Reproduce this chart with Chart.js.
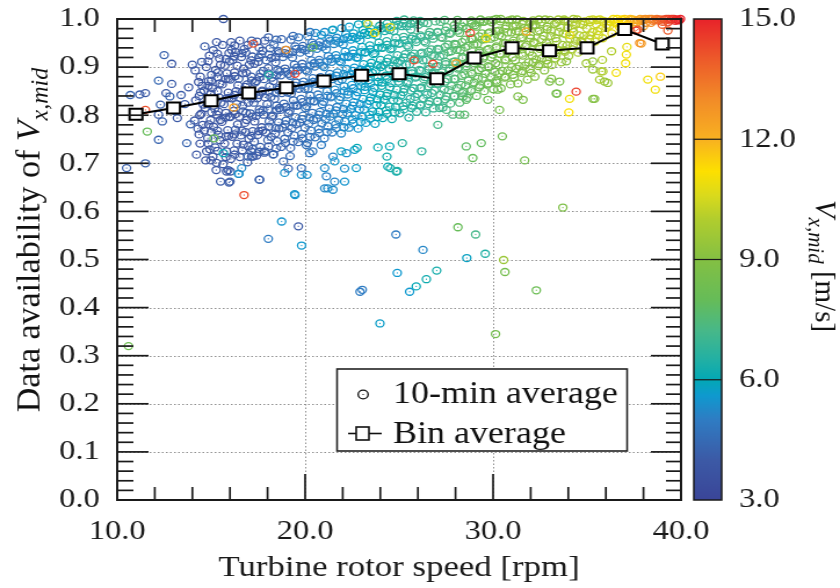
<!DOCTYPE html>
<html>
<head>
<meta charset="utf-8">
<script src="https://cdn.jsdelivr.net/npm/chart.js@4.4.1/dist/chart.umd.min.js"></script>
<style>
  html, body { margin: 0; padding: 0; background: #fff; overflow: hidden; }
</style>
</head>
<body>
<!-- drawn at 724 px wide, shown at 840 px: the original figure is stretched sideways -->
<canvas id="chart" width="724" height="588" style="width:840px;height:588px;display:block"></canvas>
<script>
// ── Data ────────────────────────────────────────────────────────────────
const binRpm   = [11, 13, 15, 17, 19, 21, 23, 25, 27, 29, 31, 33, 35, 37, 39];
const binAvail = [0.802, 0.815, 0.830, 0.846, 0.857, 0.871, 0.883, 0.886, 0.876, 0.919, 0.940, 0.934, 0.940, 0.978, 0.948];

const xTickValues = [10, 20, 30, 40];
const yTickValues = [0, 0.1, 0.2, 0.3, 0.4, 0.5, 0.6, 0.7, 0.8, 0.9, 1.0];
const cbarTicks   = [3, 6, 9, 12, 15];

// 10-min averages: [rotor speed rpm, availability, V_x,mid m/s]
const ptsLowRpm = [
  [10.5,.690,4.2],[10.6,.320,8.3],[10.7,.842,4.3],[11.2,.843,4.1],[11.5,.846,4.0],[11.5,.811,14.2],[11.6,.766,8.0],
  [11.5,.700,4.2],[12.2,.749,4.3],[12.5,.925,4.2],[12.9,.907,4.0],[12.2,.872,4.4],[12.9,.865,4.1],[12.3,.822,4.2],
  [12.6,.846,4.0],[12.8,.839,4.3],[12.2,.801,4.1],[12.4,.787,4.2],[13.2,.794,4.0],[13.1,.808,4.3],[13.6,.823,4.1],
  [13.8,.858,4.0],[13.9,.781,4.2],[13.7,.742,4.3],[14.0,.905,4.0],[13.4,.842,4.1]
];
const pts14to18 = [
  [14.22,.718,3.9],[14.41,.741,3.8],[14.30,.772,4.0],[14.12,.789,3.9],[14.47,.803,3.7],[14.18,.831,3.9],[14.44,.848,4.0],[14.33,.869,3.8],[14.15,.893,3.9],[14.50,.911,4.1],
  [14.71,.706,3.8],[14.93,.729,3.9],[14.82,.752,4.0],[14.63,.768,3.7],[14.97,.790,3.9],[14.68,.815,3.8],[14.89,.829,4.0],[14.61,.851,3.9],[14.84,.861,3.8],[15.02,.884,4.0],[14.74,.900,3.9],[14.91,.924,3.8],[14.66,.943,4.1],
  [15.27,.686,3.9],[15.09,.714,3.8],[15.21,.733,4.1],[15.38,.759,3.9],[15.13,.776,3.8],[15.31,.801,3.7],[15.19,.814,4.0],[15.42,.837,3.9],[15.06,.856,3.8],[15.34,.879,4.0],[15.24,.894,3.9],[15.45,.918,3.8],[15.11,.935,4.0],[15.29,.952,3.9],
  [15.63,.698,4.0],[15.82,.725,3.8],[15.71,.741,3.9],[15.88,.769,4.0],[15.57,.786,3.8],[15.79,.805,3.9],[15.68,.823,4.1],[15.91,.847,3.8],[15.59,.864,3.9],[15.84,.887,4.0],[15.73,.903,3.8],[15.95,.929,3.9],[15.61,.946,4.0],
  [16.04,.709,3.9],[16.22,.727,4.0],[16.11,.755,3.8],[16.29,.770,4.1],[16.01,.796,3.9],[16.19,.809,3.8],[16.08,.835,4.0],[16.33,.850,3.9],[16.02,.874,4.1],[16.24,.889,3.8],[16.14,.915,4.0],[16.31,.931,3.9],[16.06,.952,4.0],
  [16.53,.713,4.0],[16.71,.739,3.9],[16.58,.758,4.1],[16.79,.784,4.0],[16.49,.797,3.8],[16.68,.820,4.1],[16.55,.836,3.9],[16.82,.859,4.0],[16.47,.876,4.2],[16.73,.897,3.9],[16.61,.921,4.0],[16.77,.938,4.1],[16.52,.955,3.9],
  [16.93,.702,4.1],[17.12,.725,4.0],[17.01,.751,3.9],[17.21,.767,4.1],[16.89,.790,4.0],[17.08,.804,4.2],[16.97,.826,3.9],[17.24,.841,4.1],[16.91,.864,4.0],[17.14,.880,4.2],[17.03,.905,4.0],[17.19,.922,4.1],[16.95,.946,3.9],
  [17.42,.716,4.0],[17.61,.734,4.2],[17.48,.759,4.1],[17.69,.775,4.0],[17.39,.798,4.2],[17.57,.812,4.1],[17.46,.835,4.0],[17.72,.849,4.2],[17.41,.871,4.1],[17.63,.887,4.3],[17.51,.911,4.0],[17.67,.927,4.2],[17.44,.953,4.1],
  [17.83,.722,4.1],[18.02,.748,4.2],[17.91,.764,4.0],[18.09,.787,4.3],[17.79,.801,4.1],[17.98,.823,4.2],[17.87,.837,4.0],[18.11,.860,4.3],[17.81,.875,4.2],[18.04,.898,4.1],[17.93,.914,4.3],[18.13,.939,4.2],[17.85,.955,4.0]
];
const pts18to22 = [
  [18.32,.719,4.2],[18.51,.746,4.3],[18.41,.762,4.1],[18.59,.785,4.3],[18.29,.799,4.2],[18.48,.820,4.4],[18.37,.834,4.2],[18.62,.857,4.3],[18.31,.871,4.1],[18.54,.894,4.4],[18.43,.910,4.2],[18.58,.933,4.3],[18.34,.947,4.4],
  [18.72,.734,4.3],[18.91,.751,4.4],[18.79,.774,4.2],[18.99,.789,4.5],[18.68,.811,4.3],[18.87,.824,4.4],[18.76,.846,4.3],[19.01,.860,4.5],[18.71,.883,4.4],[18.93,.897,4.3],[18.82,.921,4.5],[18.97,.936,4.4],[18.74,.958,4.3],
  [19.22,.732,4.4],[19.41,.758,4.5],[19.29,.773,4.3],[19.48,.796,4.6],[19.18,.809,4.4],[19.38,.831,4.5],[19.26,.845,4.4],[19.51,.868,4.6],[19.21,.882,4.5],[19.43,.905,4.4],[19.32,.920,4.6],[19.47,.943,4.5],[19.24,.957,4.4],
  [19.63,.744,4.5],[19.82,.761,4.6],[19.71,.784,4.4],[19.89,.799,4.7],[19.59,.820,4.5],[19.78,.834,4.6],[19.67,.855,4.5],[19.92,.870,4.7],[19.61,.893,4.6],[19.84,.907,4.5],[19.73,.930,4.7],[19.88,.944,4.6],[19.65,.962,4.8],
  [20.12,.742,4.6],[20.31,.768,4.8],[20.19,.783,4.7],[20.38,.805,4.6],[20.08,.819,4.8],[20.27,.841,4.7],[20.16,.855,4.9],[20.41,.877,4.7],[20.11,.891,4.8],[20.33,.914,4.9],[20.22,.929,4.7],[20.37,.951,4.8],[20.14,.964,4.9],
  [20.53,.754,4.8],[20.72,.771,4.9],[20.61,.793,4.7],[20.79,.807,5.0],[20.49,.829,4.8],[20.68,.843,4.9],[20.57,.865,5.0],[20.82,.879,4.8],[20.51,.901,5.0],[20.74,.915,4.9],[20.63,.938,5.1],[20.78,.952,4.9],[20.56,.971,5.2],
  [21.02,.752,4.9],[21.21,.777,5.0],[21.09,.792,5.1],[21.28,.814,4.9],[20.98,.828,5.0],[21.17,.850,5.2],[21.06,.864,5.0],[21.31,.886,5.1],[21.01,.900,5.2],[21.23,.923,5.0],[21.12,.937,5.2],[21.27,.959,5.1],[21.04,.973,5.3],
  [21.43,.764,5.0],[21.62,.781,5.1],[21.49,.803,5.2],[21.69,.817,5.0],[21.39,.839,5.2],[21.58,.853,5.3],[21.47,.875,5.1],[21.72,.889,5.3],[21.41,.911,5.2],[21.64,.925,5.4],[21.53,.948,5.2],[21.68,.961,5.3],[21.45,.977,5.5],
  [21.92,.762,5.2],[22.11,.787,5.3],[21.99,.802,5.1],[22.18,.824,5.4],[21.88,.838,5.2],[22.07,.860,5.4],[21.96,.874,5.3],[22.21,.896,5.5],[21.91,.910,5.3],[22.13,.932,5.5],[22.02,.947,5.4],[22.17,.968,5.6],[21.94,.981,5.5]
];
const pts22to26 = [
  [22.33,.774,5.3],[22.52,.791,5.5],[22.41,.813,5.4],[22.59,.827,5.3],[22.29,.849,5.5],[22.48,.863,5.6],[22.37,.885,5.4],[22.62,.899,5.6],[22.31,.921,5.5],[22.54,.935,5.7],[22.43,.957,5.6],[22.58,.970,5.8],[22.35,.984,5.7],
  [22.82,.772,5.5],[23.01,.797,5.6],[22.89,.812,5.4],[23.08,.834,5.7],[22.78,.848,5.5],[22.97,.870,5.7],[22.86,.884,5.6],[23.11,.906,5.8],[22.81,.920,5.7],[23.03,.942,5.9],[22.92,.956,5.8],[23.07,.977,6.0],[22.84,.989,5.9],
  [23.23,.784,5.7],[23.42,.801,5.8],[23.29,.823,5.6],[23.49,.837,5.9],[23.19,.859,5.7],[23.38,.873,5.9],[23.27,.895,5.8],[23.52,.909,6.0],[23.21,.931,5.9],[23.44,.945,6.1],[23.33,.967,6.0],[23.48,.980,6.2],[23.25,.992,6.1],
  [23.72,.782,5.8],[23.91,.807,6.0],[23.79,.821,5.9],[23.98,.843,6.1],[23.68,.857,5.9],[23.87,.879,6.1],[23.76,.893,6.0],[24.01,.915,6.2],[23.71,.929,6.1],[23.93,.951,6.3],[23.82,.965,6.2],[23.97,.986,6.4],
  [24.13,.794,6.0],[24.32,.810,6.2],[24.19,.832,6.1],[24.38,.846,6.3],[24.09,.868,6.1],[24.28,.882,6.3],[24.17,.904,6.2],[24.42,.918,6.4],[24.11,.940,6.3],[24.34,.954,6.5],[24.23,.975,6.4],[24.37,.991,6.6],
  [24.62,.792,6.2],[24.81,.817,6.4],[24.69,.831,6.3],[24.88,.853,6.5],[24.58,.867,6.3],[24.77,.889,6.5],[24.66,.903,6.4],[24.91,.925,6.6],[24.61,.939,6.5],[24.83,.961,6.7],[24.72,.975,6.6],[24.87,.996,6.8],
  [25.03,.804,6.4],[25.22,.819,6.5],[25.09,.841,6.3],[25.28,.855,6.6],[24.99,.877,6.5],[25.18,.891,6.7],[25.07,.913,6.6],[25.32,.927,6.8],[25.01,.949,6.7],[25.24,.963,6.9],[25.13,.985,6.8],[25.27,.999,7.0],
  [25.52,.795,6.5],[25.71,.820,6.6],[25.59,.834,6.5],[25.78,.856,6.7],[25.48,.870,6.6],[25.67,.892,6.8],[25.56,.906,6.7],[25.81,.928,6.9],[25.51,.942,6.8],[25.73,.964,7.0],[25.62,.978,6.9],[25.77,.997,7.1]
];
const pts26to30 = [
  [25.93,.807,6.7],[26.12,.822,6.8],[25.99,.844,6.6],[26.18,.858,6.9],[25.89,.880,6.8],[26.08,.894,7.0],[25.97,.916,6.9],[26.22,.930,7.1],[25.91,.952,7.0],[26.14,.966,7.2],[26.03,.988,7.1],
  [26.42,.806,6.8],[26.61,.829,6.9],[26.49,.843,6.7],[26.68,.865,7.0],[26.38,.879,6.9],[26.57,.901,7.1],[26.46,.915,7.0],[26.71,.937,7.2],[26.41,.951,7.1],[26.63,.973,7.3],[26.52,.991,7.2],
  [26.83,.814,6.9],[27.02,.829,7.0],[26.89,.851,6.9],[27.08,.865,7.1],[26.79,.887,7.0],[26.98,.901,7.2],[26.87,.923,7.1],[27.12,.937,7.3],[26.81,.959,7.2],[27.04,.973,7.4],[26.93,.995,7.3],
  [27.32,.816,7.1],[27.51,.839,7.2],[27.39,.853,7.1],[27.58,.875,7.3],[27.28,.889,7.2],[27.47,.911,7.4],[27.36,.925,7.3],[27.61,.947,7.5],[27.31,.961,7.4],[27.53,.983,7.6],[27.42,.998,7.5],
  [27.73,.824,7.3],[27.92,.839,7.4],[27.79,.861,7.3],[27.98,.875,7.5],[27.69,.897,7.4],[27.88,.911,7.6],[27.77,.933,7.5],[28.02,.947,7.7],[27.71,.969,7.6],[27.94,.987,7.8],
  [28.22,.826,7.5],[28.41,.849,7.6],[28.29,.863,7.5],[28.48,.885,7.7],[28.18,.899,7.6],[28.37,.921,7.8],[28.26,.935,7.7],[28.51,.957,7.9],[28.21,.971,7.8],[28.43,.993,8.0],
  [28.63,.836,7.7],[28.82,.850,7.8],[28.69,.872,7.7],[28.88,.886,7.9],[28.59,.908,7.8],[28.78,.922,8.0],[28.67,.944,7.9],[28.92,.958,8.1],[28.61,.980,8.0],[28.84,.997,8.2],
  [29.12,.840,7.9],[29.31,.862,8.0],[29.19,.876,7.9],[29.38,.898,8.1],[29.08,.912,8.0],[29.27,.934,8.2],[29.16,.948,8.1],[29.41,.970,8.3],[29.11,.984,8.2],[29.33,.999,8.3],
  [29.53,.850,8.1],[29.72,.864,8.2],[29.59,.886,8.1],[29.78,.900,8.3],[29.49,.922,8.2],[29.68,.936,8.4],[29.57,.958,8.3],[29.82,.972,8.5],[29.51,.994,8.4]
];
const pts30to34 = [
  [30.02,.854,8.3],[30.21,.868,8.4],[30.09,.890,8.3],[30.28,.904,8.5],[29.98,.926,8.4],[30.17,.940,8.6],[30.06,.962,8.5],[30.31,.976,8.7],[30.01,.998,8.6],
  [30.42,.856,8.5],[30.61,.878,8.6],[30.49,.892,8.5],[30.68,.914,8.7],[30.38,.928,8.6],[30.57,.950,8.8],[30.46,.964,8.7],[30.71,.986,8.9],[30.41,1.0,8.8],
  [30.93,.864,8.6],[31.12,.878,8.7],[30.99,.900,8.6],[31.18,.914,8.8],[30.89,.936,8.7],[31.08,.950,8.9],[30.97,.972,8.8],[31.22,.986,9.0],[31.01,.999,8.9],
  [31.32,.866,8.8],[31.51,.888,8.9],[31.39,.902,8.8],[31.58,.924,9.0],[31.28,.938,8.9],[31.47,.960,9.1],[31.36,.974,9.0],[31.61,.996,9.2],
  [31.83,.874,8.9],[32.02,.888,9.0],[31.89,.910,8.9],[32.08,.924,9.1],[31.79,.946,9.0],[31.98,.960,9.2],[31.87,.982,9.1],[32.12,.997,9.3],
  [32.22,.880,9.0],[32.41,.902,9.1],[32.29,.916,9.0],[32.48,.938,9.2],[32.18,.952,9.1],[32.37,.974,9.3],[32.26,.988,9.2],
  [32.73,.893,9.1],[32.92,.907,9.2],[32.79,.929,9.1],[32.98,.943,9.3],[32.69,.965,9.2],[32.88,.979,9.4],[32.77,.999,9.3],
  [33.12,.904,9.3],[33.31,.918,9.4],[33.19,.940,9.3],[33.38,.954,9.5],[33.08,.976,9.4],[33.27,.990,9.6],
  [33.63,.910,9.5],[33.82,.932,9.6],[33.69,.946,9.5],[33.88,.968,9.7],[33.59,.982,9.6],[33.78,.999,9.8]
];
const pts34to40 = [
  [34.02,.923,9.7],[34.21,.937,9.8],[34.09,.959,9.7],[34.28,.973,9.9],[33.98,.995,9.8],
  [34.52,.930,9.9],[34.71,.952,10.0],[34.59,.966,9.9],[34.78,.988,10.1],[34.48,.999,10.0],
  [34.93,.944,10.1],[35.12,.958,10.2],[34.99,.980,10.1],[35.18,.994,10.3],
  [35.42,.953,10.3],[35.61,.967,10.4],[35.49,.989,10.3],[35.68,.999,10.5],
  [35.83,.960,10.5],[36.02,.982,10.6],[35.89,.996,10.5],
  [36.32,.970,10.8],[36.51,.991,10.9],[36.39,1.0,11.0],[36.20,.995,10.8],[36.60,1.0,11.1],
  [36.73,.983,11.2],[36.92,.997,11.3],[36.90,.985,11.4],[37.00,1.0,11.6],
  [37.22,.984,11.7],[37.41,.999,11.9],[37.50,.993,12.1],
  [37.63,.993,12.2],[37.82,1.0,12.4],[37.90,.996,12.6],[38.00,.985,12.5],
  [38.13,.992,12.7],[38.31,1.0,12.9],[38.40,.992,13.0],
  [38.52,.996,13.3],[38.71,1.0,13.6],[38.80,.997,13.8],
  [39.02,.994,14.0],[39.21,1.0,14.3],[39.00,.988,13.9],[39.30,.993,14.3],
  [39.43,.997,14.5],[39.62,1.0,14.7],[39.70,.996,14.8],
  [39.83,.998,14.8],[39.97,1.0,15.0]
];
const ptsCore = [
  [14.55,.780,3.9],[14.58,.822,3.8],[14.52,.861,4.0],
  [15.00,.765,3.9],[15.03,.806,4.0],[14.98,.845,3.8],[15.01,.872,3.9],
  [15.47,.748,3.8],[15.49,.790,3.9],[15.52,.826,4.0],[15.46,.866,3.9],[15.50,.905,3.8],
  [15.93,.757,3.9],[15.97,.797,4.0],[15.95,.836,3.8],[15.92,.876,3.9],[15.98,.912,4.1],
  [16.38,.741,4.0],[16.41,.781,3.9],[16.36,.823,4.1],[16.43,.862,4.0],[16.39,.903,3.9],
  [16.83,.765,4.0],[16.86,.805,4.1],[16.81,.847,3.9],[16.87,.888,4.0],[16.84,.930,4.1],
  [17.29,.745,4.1],[17.31,.787,4.0],[17.27,.826,4.2],[17.33,.868,4.1],[17.30,.907,4.0],
  [17.73,.768,4.1],[17.75,.810,4.2],[17.71,.851,4.0],[17.77,.892,4.2],[17.74,.934,4.1],
  [18.19,.755,4.2],[18.21,.797,4.1],[18.17,.838,4.3],[18.23,.878,4.2],[18.20,.919,4.1],
  [18.61,.772,4.3],[18.64,.815,4.2],[18.59,.853,4.4],[18.66,.891,4.3],[18.62,.929,4.2],
  [19.09,.764,4.4],[19.11,.805,4.3],[19.07,.847,4.5],[19.13,.886,4.4],[19.10,.927,4.5],
  [19.52,.781,4.5],[19.54,.820,4.4],[19.49,.861,4.6],[19.56,.899,4.5],[19.53,.938,4.6],
  [19.99,.774,4.6],[20.01,.815,4.7],[19.97,.855,4.6],[20.03,.894,4.8],[20.00,.935,4.7],
  [20.44,.790,4.8],[20.46,.829,4.7],[20.42,.869,4.9],[20.48,.908,4.8],[20.45,.946,4.9],
  [20.89,.783,4.9],[20.91,.823,5.0],[20.87,.863,4.9],[20.93,.903,5.1],[20.90,.942,5.0],
  [21.33,.797,5.1],[21.36,.837,5.0],[21.31,.878,5.2],[21.38,.917,5.1],[21.34,.955,5.3],
  [21.79,.790,5.2],[21.81,.832,5.3],[21.77,.871,5.2],[21.83,.912,5.4],[21.80,.951,5.3],
  [22.24,.804,5.4],[22.26,.843,5.3],[22.22,.883,5.5],[22.28,.923,5.4],[22.25,.962,5.6],
  [22.69,.800,5.5],[22.71,.840,5.6],[22.67,.880,5.5],[22.73,.920,5.7],[22.70,.960,5.8],
  [23.14,.812,5.7],[23.16,.852,5.8],[23.12,.891,5.7],[23.18,.930,5.9],[23.15,.971,6.0],
  [23.59,.808,5.9],[23.61,.848,5.8],[23.57,.888,6.0],[23.63,.927,6.1],[23.60,.968,6.0],
  [24.04,.821,6.1],[24.06,.861,6.2],[24.02,.900,6.1],[24.08,.941,6.3],[24.05,.980,6.2],
  [24.49,.818,6.3],[24.51,.858,6.2],[24.47,.897,6.4],[24.53,.937,6.3],[24.50,.977,6.5],
  [24.94,.830,6.5],[24.96,.870,6.4],[24.92,.909,6.6],[24.98,.949,6.5],[24.95,.988,6.7],
  [25.39,.826,6.6],[25.41,.866,6.7],[25.37,.905,6.6],[25.43,.945,6.8],[25.40,.985,6.7],
  [25.84,.838,6.8],[25.86,.878,6.7],[25.82,.917,6.9],[25.88,.957,6.8],[25.85,.993,7.0],
  [26.29,.835,6.9],[26.31,.875,7.0],[26.27,.914,6.9],[26.33,.954,7.1],[26.30,.992,7.2],
  [26.74,.846,7.0],[26.76,.886,7.1],[26.72,.925,7.2],[26.78,.965,7.1],
  [27.19,.843,7.2],[27.21,.883,7.3],[27.17,.922,7.2],[27.23,.962,7.4],[27.20,.994,7.3],
  [27.64,.852,7.4],[27.66,.892,7.3],[27.62,.931,7.5],[27.68,.971,7.4],
  [28.09,.857,7.6],[28.11,.897,7.5],[28.07,.936,7.7],[28.13,.976,7.6],[28.10,.998,7.8],
  [28.54,.862,7.8],[28.56,.902,7.7],[28.52,.941,7.9],[28.58,.981,7.8],
  [28.99,.868,8.0],[29.01,.908,7.9],[28.97,.947,8.1],[29.03,.987,8.0],
  [29.44,.878,8.2],[29.46,.918,8.1],[29.42,.957,8.3],[29.48,.995,8.2],
  [29.89,.880,8.3],[29.91,.920,8.4],[29.87,.959,8.3],[29.93,.993,8.5],
  [30.34,.887,8.5],[30.36,.927,8.6],[30.32,.966,8.5],[30.38,.995,8.7],
  [30.79,.893,8.7],[30.81,.933,8.8],[30.77,.972,8.7],[30.83,.997,8.9],
  [31.24,.897,8.8],[31.26,.937,8.9],[31.22,.975,9.0],[31.28,.999,8.9],
  [31.69,.903,9.0],[31.71,.943,9.1],[31.67,.981,9.0],
  [32.14,.910,9.1],[32.16,.950,9.2],[32.12,.987,9.1],
  [32.59,.918,9.2],[32.61,.958,9.3],[32.57,.993,9.2],
  [33.04,.926,9.4],[33.06,.965,9.5],[33.02,.998,9.4],
  [33.49,.935,9.6],[33.51,.973,9.5],[33.47,.999,9.7],
  [33.94,.945,9.7],[33.96,.981,9.8],[34.39,.955,9.9],[34.41,.989,10.0],
  [34.84,.965,10.1],[34.86,.995,10.2],[35.29,.973,10.3],[35.31,.999,10.4],
  [35.74,.980,10.5],[36.19,.986,10.7],[36.64,.993,11.1],[37.09,.995,11.5],[37.54,.998,12.0],
  [37.99,.999,12.6],[38.44,1.0,13.1],[38.89,.999,13.8],[39.34,1.0,14.4],[39.74,.999,14.9]
];
const ptsCore2 = [
  [14.36,.760,3.8],[14.40,.800,3.9],[14.37,.840,4.0],[14.42,.880,3.8],[14.85,.741,3.9],[14.87,.781,3.8],[14.83,.823,4.0],[14.86,.871,3.9],[14.84,.912,3.8],
  [15.35,.726,3.9],[15.33,.768,4.0],[15.37,.808,3.8],[15.34,.850,3.9],[15.36,.889,4.0],[15.33,.928,3.9],
  [15.78,.713,3.8],[15.80,.756,3.9],[15.76,.795,4.0],[15.81,.835,3.9],[15.77,.875,3.8],[15.79,.917,4.0],
  [16.25,.718,4.0],[16.23,.760,3.9],[16.27,.802,3.8],[16.24,.842,4.0],[16.26,.881,3.9],[16.22,.922,4.0],[16.25,.945,3.9],
  [16.66,.727,3.9],[16.64,.768,4.0],[16.69,.808,4.1],[16.65,.848,3.9],[16.68,.887,4.0],[16.63,.929,4.1],
  [17.15,.714,4.0],[17.13,.757,4.1],[17.17,.797,3.9],[17.14,.835,4.0],[17.16,.872,4.1],[17.12,.914,4.0],[17.15,.955,4.2],
  [17.56,.724,4.1],[17.54,.767,4.0],[17.58,.806,4.2],[17.55,.842,4.1],[17.57,.879,4.0],[17.53,.920,4.2],[17.56,.940,4.1],
  [18.05,.735,4.1],[18.07,.776,4.2],[18.03,.812,4.3],[18.06,.849,4.1],[18.04,.887,4.2],[18.08,.926,4.3],[18.05,.962,4.2],
  [18.46,.731,4.2],[18.44,.773,4.3],[18.48,.810,4.2],[18.45,.846,4.4],[18.47,.883,4.3],[18.43,.921,4.2],[18.46,.957,4.4],
  [18.95,.742,4.3],[18.93,.781,4.4],[18.97,.817,4.3],[18.94,.853,4.5],[18.96,.890,4.4],[18.92,.929,4.3],
  [19.36,.745,4.4],[19.34,.785,4.5],[19.38,.820,4.4],[19.35,.856,4.6],[19.37,.893,4.5],[19.33,.931,4.4],[19.36,.965,4.5],
  [19.85,.752,4.5],[19.83,.792,4.6],[19.87,.827,4.5],[19.84,.863,4.7],[19.86,.900,4.6],[19.82,.938,4.5],
  [20.26,.755,4.7],[20.24,.795,4.8],[20.28,.830,4.7],[20.25,.866,4.9],[20.27,.903,4.8],[20.23,.940,4.7],[20.26,.973,4.9],
  [20.75,.763,4.8],[20.73,.801,4.9],[20.77,.836,5.0],[20.74,.872,4.8],[20.76,.909,5.0],[20.72,.945,4.9],
  [21.16,.765,5.0],[21.14,.803,5.1],[21.18,.840,5.0],[21.15,.876,5.2],[21.17,.912,5.1],[21.13,.948,5.0],
  [21.65,.773,5.1],[21.63,.810,5.2],[21.67,.846,5.1],[21.64,.882,5.3],[21.66,.918,5.2],[21.62,.955,5.3],
  [22.06,.775,5.3],[22.04,.813,5.2],[22.08,.850,5.4],[22.05,.886,5.3],[22.07,.921,5.5],[22.03,.958,5.4],
  [22.55,.783,5.4],[22.53,.820,5.5],[22.57,.856,5.4],[22.54,.892,5.6],[22.56,.928,5.5],[22.52,.963,5.7],
  [22.96,.786,5.6],[22.94,.823,5.5],[22.98,.860,5.7],[22.95,.895,5.6],[22.97,.931,5.8],[22.93,.966,5.7],
  [23.45,.793,5.7],[23.43,.830,5.8],[23.47,.866,5.7],[23.44,.901,5.9],[23.46,.937,5.8],[23.42,.973,6.0],
  [23.86,.796,5.9],[23.84,.833,6.0],[23.88,.869,5.9],[23.85,.904,6.1],[23.87,.940,6.0],[23.83,.976,6.2],
  [24.35,.803,6.1],[24.33,.840,6.2],[24.37,.875,6.1],[24.34,.911,6.3],[24.36,.946,6.2],[24.32,.982,6.4],
  [24.76,.806,6.3],[24.74,.842,6.4],[24.78,.878,6.3],[24.75,.914,6.5],[24.77,.950,6.4],[24.73,.986,6.6],
  [25.25,.812,6.4],[25.23,.848,6.5],[25.27,.884,6.4],[25.24,.920,6.6],[25.26,.956,6.5],[25.22,.991,6.7],
  [25.66,.815,6.6],[25.64,.851,6.7],[25.68,.887,6.6],[25.65,.923,6.8],[25.67,.959,6.7],[25.63,.990,6.9],
  [26.15,.820,6.7],[26.13,.856,6.8],[26.17,.892,6.7],[26.14,.928,6.9],[26.16,.963,6.8],[26.12,.996,7.0],
  [26.56,.823,6.9],[26.54,.860,7.0],[26.58,.896,6.9],[26.55,.932,7.1],[26.57,.967,7.0],
  [27.05,.829,7.0],[27.03,.866,7.1],[27.07,.902,7.0],[27.04,.938,7.2],[27.06,.972,7.1],
  [27.46,.833,7.2],[27.44,.870,7.3],[27.48,.906,7.2],[27.45,.942,7.4],[27.47,.976,7.3],
  [27.95,.840,7.4],[27.93,.876,7.5],[27.97,.912,7.4],[27.94,.948,7.6],[27.96,.980,7.5],
  [28.36,.846,7.6],[28.34,.882,7.7],[28.38,.918,7.6],[28.35,.952,7.8],[28.37,.984,7.7],
  [28.85,.853,7.8],[28.83,.889,7.9],[28.87,.925,7.8],[28.84,.960,8.0],[28.86,.990,7.9],
  [29.26,.858,8.0],[29.24,.894,8.1],[29.28,.930,8.0],[29.25,.964,8.2],[29.27,.993,8.1],
  [29.75,.866,8.2],[29.73,.902,8.3],[29.77,.938,8.2],[29.74,.970,8.4],[29.76,.997,8.3],
  [30.16,.872,8.4],[30.14,.908,8.5],[30.18,.943,8.4],[30.15,.975,8.6],[30.17,1.0,8.5],
  [30.65,.880,8.6],[30.63,.916,8.7],[30.67,.950,8.6],[30.64,.980,8.8],
  [31.06,.884,8.7],[31.04,.920,8.8],[31.08,.955,8.7],[31.05,.984,8.9],
  [31.55,.892,8.9],[31.53,.928,9.0],[31.57,.962,8.9],[31.54,.990,9.1],
  [31.96,.896,9.0],[31.94,.932,9.1],[31.98,.966,9.0],[31.95,.993,9.2],
  [32.45,.906,9.1],[32.43,.942,9.2],[32.47,.976,9.1],[32.44,.999,9.3],
  [32.86,.914,9.2],[32.84,.950,9.3],[32.88,.984,9.2],
  [33.35,.925,9.4],[33.33,.960,9.5],[33.37,.992,9.4],
  [33.76,.935,9.6],[33.74,.970,9.7],[33.78,.996,9.6],
  [34.25,.945,9.8],[34.23,.980,9.9],[34.27,1.0,9.8],
  [34.66,.955,10.0],[34.64,.990,10.1],[35.15,.966,10.2],[35.13,.998,10.3],[35.56,.975,10.4],[35.54,.998,10.5],
  [36.05,.988,10.7],[36.45,.993,10.9],[36.85,.999,11.3],[37.30,1.0,11.8],[37.70,.997,12.4],[38.10,1.0,12.9],
  [38.60,.998,13.5],[39.10,.999,14.2],[39.50,1.0,14.6],[39.90,.997,15.0]
];
const ptsSparse = [
  [14.76,.725,3.9],[14.99,.706,3.8],[15.29,.701,4.0],[15.82,.683,3.9],[15.90,.686,4.1],[16.98,.735,4.0],[17.24,.714,4.1],
  [17.86,.725,4.2],[18.30,.718,4.3],[18.84,.704,4.4],[19.10,.689,4.3],[19.20,.715,4.5],[19.80,.676,5.4],
  [15.50,.662,4.1],[16.02,.683,4.0],[16.48,.678,5.3],[17.58,.666,4.2],[15.95,.660,4.1],[16.96,.714,4.3],[17.20,.730,4.2],
  [18.91,.680,5.4],[19.44,.636,5.5],[19.80,.690,4.6],[16.62,.690,5.2],
  [20.24,.721,4.8],[20.86,.738,5.0],[21.48,.714,5.1],[21.04,.690,5.3],[22.20,.721,5.4],[21.57,.662,5.2],[21.20,.648,5.4],
  [24.50,.735,6.0],[24.85,.683,6.1],[24.40,.693,6.0],[20.10,.676,5.4],[21.04,.648,5.2],[21.48,.645,5.3],[21.13,.673,5.1],
  [22.10,.662,5.5],[22.72,.690,5.7],[22.10,.689,5.4],[21.57,.704,5.6],[21.92,.725,5.8],[22.63,.728,5.7],[22.76,.732,6.0],
  [23.87,.733,6.1],[24.35,.714,6.3],[24.53,.690,6.4],[24.90,.684,6.5],[25.17,.742,6.6],[26.20,.725,6.7],[20.40,.725,4.9],
  [20.06,.738,4.7],[28.57,.735,7.8],[28.92,.711,8.0],[29.37,.742,7.9],[27.06,.780,7.2],
  [28.39,.839,7.6],[28.57,.832,7.8],[30.25,.853,8.4],[30.34,.811,8.5],[29.72,.832,8.2],[31.59,.832,8.7],[31.32,.839,8.8],
  [27.86,.801,7.4],[28.22,.801,7.6],[28.48,.801,7.7],[27.51,.811,7.3],[27.15,.815,7.1],
  [33.40,.845,8.6],[35.31,.834,9.0],[35.81,.915,9.9],[36.30,.933,10.0],[35.30,.912,9.3],[35.75,.891,9.8],[35.93,.870,9.4],
  [33.54,.870,8.7],[33.90,.912,9.1],[34.96,.908,9.6],[35.30,.895,9.5],[33.00,.870,8.7],[33.10,.876,8.9],[35.67,.874,9.8],
  [35.84,.891,10.0],[36.10,.867,9.5],[20.86,.967,5.6],[21.48,.978,5.8],[16.09,.936,4.0]
];
const ptsOutliers = [
  [18.04,.543,5.0],[18.75,.579,5.5],[19.64,.569,4.0],[19.81,.529,5.6],[24.83,.552,5.0],[24.90,.472,5.6],[22.92,.433,5.0],
  [23.04,.437,5.0],[23.98,.367,5.7],[28.13,.567,8.0],[29.07,.552,7.2],[26.27,.520,5.2],[28.60,.503,5.8],[29.58,.512,6.5],
  [30.56,.499,9.5],[30.63,.474,8.5],[27.00,.477,6.3],[26.45,.459,6.2],[25.91,.444,6.0],[25.56,.433,5.6],[32.30,.436,8.2],
  [30.13,.345,8.5],[30.49,.756,8.3],[31.68,.706,8.5],[33.71,.608,8.8],[34.42,.849,14.5],[34.07,.834,11.0],[34.03,.806,11.2],
  [35.40,.834,9.0],[33.36,.845,8.5],[38.23,.874,11.0],[38.63,.853,11.0],[38.90,.880,11.5],[36.55,.888,11.0],[37.05,.908,11.0],
  [37.09,.926,11.0],[37.12,.942,10.8],[37.88,.949,12.5],[39.30,.976,14.0],[37.70,.978,14.0],
  [17.24,.949,14.2],[18.98,.936,12.8],[19.46,.886,14.5],[18.07,.884,6.5],[16.20,.816,12.5],[15.15,.752,8.0],[15.65,.721,6.0],
  [16.75,.634,14.3],[15.65,1.0,4.0],[20.40,.941,8.0],[16.00,.662,4.1],[17.56,.666,4.2],[19.46,.634,5.5],[16.45,.678,5.4],
  [25.79,.914,14.3],[26.80,.907,14.4],[28.78,.971,14.5],[24.53,.983,11.0],[23.70,.971,11.2],[23.34,.990,10.2],[28.04,.908,12.5],
  [29.63,.960,11.0],[31.77,.974,12.2],[34.07,.967,11.0],[37.60,.976,14.5],[37.80,.950,12.8]
];

// colour scale of V_x,mid (matches the colour bar)
const cmapStops = [
  [3.0, '#3a4598'], [4.0, '#3c5aa6'], [5.0, '#2f7cc3'], [5.6, '#0f99cf'], [6.0, '#03a8b5'],
  [6.5, '#22b0a4'], [7.2, '#46b88a'], [8.0, '#66bc58'], [9.0, '#84c043'], [10.0, '#b1cd2e'],
  [10.6, '#dada1c'], [11.2, '#fde000'], [12.0, '#f8b121'], [13.0, '#f28b28'], [14.0, '#ed5a2a'], [15.0, '#e8232a']
];

// ── Helpers ─────────────────────────────────────────────────────────────
const SX = 840 / 724;          // sideways stretch of the displayed canvas
const SERIF = "'Liberation Serif', 'Times New Roman', serif";
const INK = '#1a1a1a';

function hexRgb(h) { return [1, 3, 5].map(i => parseInt(h.slice(i, i + 2), 16)); }

function windColor(ws) {
  const v = Math.max(3, Math.min(15, ws));
  for (let i = 1; i < cmapStops.length; i++) {
    if (v <= cmapStops[i][0]) {
      const [v0, c0] = cmapStops[i - 1], [v1, c1] = cmapStops[i];
      const t = (v - v0) / (v1 - v0);
      const a = hexRgb(c0), b = hexRgb(c1);
      return `rgb(${a.map((c, k) => Math.round(c + (b[k] - c) * t)).join(',')})`;
    }
  }
  return cmapStops[cmapStops.length - 1][1];
}

const scatterPts = [ptsLowRpm, pts14to18, pts18to22, pts22to26, pts26to30, pts30to34, pts34to40,
                    ptsCore, ptsCore2, ptsSparse, ptsOutliers].flat();
const scatterColors = scatterPts.map(p => windColor(p[2]));

function line(ctx, x0, y0, x1, y1) { ctx.beginPath(); ctx.moveTo(x0, y0); ctx.lineTo(x1, y1); ctx.stroke(); }

// draw text pieces one after another along the baseline
function drawRuns(ctx, runs, x, y) {
  runs.forEach(r => {
    ctx.font = r.font;
    ctx.fillText(r.text, x, y + (r.dy || 0));
    x += ctx.measureText(r.text).width;
  });
}
function runsWidth(ctx, runs) {
  return runs.reduce((w, r) => { ctx.font = r.font; return w + ctx.measureText(r.text).width; }, 0);
}

// ── Plugin: grid, ticks, frame, colour bar, titles, legend ─────────────
const decorations = {
  id: 'decorations',
  beforeDatasetsDraw(chart) {
    const { ctx, chartArea: a, scales: { x, y } } = chart;
    ctx.save();
    ctx.strokeStyle = '#8f8f8f';
    ctx.lineWidth = 1;
    ctx.setLineDash([1.5, 2]);
    yTickValues.slice(1, -1).forEach(v => {
      const py = Math.round(y.getPixelForValue(v)) + 0.5;
      line(ctx, a.left, py, a.right, py);
    });
    xTickValues.slice(1, -1).forEach(v => {
      const px = Math.round(x.getPixelForValue(v)) + 0.5;
      line(ctx, px, a.top, px, a.bottom);
    });
    ctx.restore();
  },
  afterDatasetDraw(chart, args) {
    if (args.index !== 1) return;
    const { ctx } = chart;
    ctx.save();
    chart.getDatasetMeta(1).data.forEach((pt, i) => {
      ctx.fillStyle = scatterColors[i];
      ctx.fillRect(pt.x - 0.5, pt.y - 0.6, 1, 1.2);
    });
    ctx.restore();
  },
  afterDraw(chart) {
    const { ctx, chartArea: a, scales: { x, y, cbar } } = chart;
    ctx.save();

    // inward ticks on all four sides
    ctx.strokeStyle = INK;
    ctx.lineWidth = 1.7;
    for (let i = 0; i <= 50; i++) {
      const py = y.getPixelForValue(i * 0.02);
      const major = i % 5 === 0;
      line(ctx, a.left, py, a.left + (major ? 27 : 14), py);
      line(ctx, a.right, py, a.right - (major ? 26 : 13), py);
    }
    for (let r = 10; r <= 40; r += 2) {
      const px = x.getPixelForValue(r);
      const major = r % 10 === 0;
      line(ctx, px, a.bottom, px, a.bottom - (major ? 26 : 13));
      line(ctx, px, a.top, px, a.top + (major ? 16 : 13));
    }

    // frame
    ctx.lineWidth = 2;
    ctx.strokeRect(a.left, a.top, a.right - a.left, a.bottom - a.top);

    // colour bar
    const cbL = 598, cbR = 622;
    const cbTop = cbar.getPixelForValue(15), cbBot = cbar.getPixelForValue(3);
    const grad = ctx.createLinearGradient(0, cbBot, 0, cbTop);
    cmapStops.forEach(([v, c]) => grad.addColorStop((v - 3) / 12, c));
    ctx.fillStyle = grad;
    ctx.fillRect(cbL, cbTop, cbR - cbL, cbBot - cbTop);
    ctx.lineWidth = 1.2;
    cbarTicks.slice(1, -1).forEach(v => {
      const py = cbar.getPixelForValue(v);
      line(ctx, cbL, py, cbR, py);
    });
    ctx.lineWidth = 1.5;
    ctx.strokeRect(cbL, cbTop, cbR - cbL, cbBot - cbTop);

    ctx.fillStyle = '#111';
    ctx.textBaseline = 'alphabetic';
    ctx.textAlign = 'left';

    // y-axis title, rotated, drawn unstretched
    const yRuns = [
      { text: 'Data availability of ', font: `34px ${SERIF}` },
      { text: 'V', font: `italic 34px ${SERIF}` },
      { text: 'x,mid', font: `italic 24px ${SERIF}`, dy: 8 }
    ];
    ctx.save();
    ctx.translate(39 / SX, 240);
    ctx.rotate(-Math.PI / 2);
    ctx.scale(1, 1 / SX);
    drawRuns(ctx, yRuns, -runsWidth(ctx, yRuns) / 2, 0);
    ctx.restore();

    // colour-bar title
    const cRuns = [
      { text: 'V', font: `italic 29px ${SERIF}` },
      { text: 'x,mid', font: `italic 21px ${SERIF}`, dy: 7 },
      { text: ' [m/s]', font: `29px ${SERIF}` }
    ];
    ctx.save();
    ctx.translate(816 / SX, 266);
    ctx.rotate(Math.PI / 2);
    ctx.scale(1, 1 / SX);
    drawRuns(ctx, cRuns, -runsWidth(ctx, cRuns) / 2, 0);
    ctx.restore();

    // legend box
    const lgL = 290.5, lgR = 540.5, lgT = 369, lgB = 451;
    ctx.fillStyle = '#fff';
    ctx.fillRect(lgL, lgT, lgR - lgL, lgB - lgT);
    ctx.strokeStyle = '#222';
    ctx.lineWidth = 1.6;
    ctx.strokeRect(lgL, lgT, lgR - lgL, lgB - lgT);

    ctx.strokeStyle = '#111';
    ctx.lineWidth = 1.3;
    ctx.beginPath();
    ctx.arc(313, 394.5, 4.3, 0, Math.PI * 2);
    ctx.stroke();
    ctx.fillStyle = '#111';
    ctx.fillRect(312.5, 394, 1, 1);

    ctx.lineWidth = 1.6;
    line(ctx, 300, 433.5, 329, 433.5);
    ctx.fillStyle = '#fff';
    ctx.fillRect(307, 427, 11, 13);
    ctx.strokeRect(307, 427, 11, 13);

    ctx.fillStyle = '#111';
    ctx.font = `31px ${SERIF}`;
    ctx.fillText('10-min average', 338.8, 403);
    ctx.fillText('Bin average', 338.8, 443);

    ctx.restore();
  }
};

// ── Chart ───────────────────────────────────────────────────────────────
const tickFont = { family: SERIF, size: 28 };
// tick marks are hidden; their length only sets the label offset
const labelGap = len => ({ display: false, drawTicks: true, tickLength: len });

new Chart(document.getElementById('chart'), {
  type: 'scatter',
  data: {
    datasets: [
      {
        label: 'Bin average',
        data: binRpm.map((r, i) => ({ x: r, y: binAvail[i] })),
        showLine: true,
        borderColor: '#000',
        borderWidth: 2,
        pointStyle: 'rect',
        pointRadius: 7.8,
        pointBackgroundColor: '#fff',
        pointBorderColor: '#000',
        pointBorderWidth: 2,
        order: 0,
        clip: false
      },
      {
        label: '10-min average',
        data: scatterPts.map(p => ({ x: p[0], y: p[1] })),
        pointRadius: 3.5,
        pointBorderWidth: 1.3,
        pointBorderColor: scatterColors,
        pointBackgroundColor: 'rgba(0,0,0,0)',
        showLine: false,
        order: 1,
        clip: false
      }
    ]
  },
  options: {
    responsive: false,
    animation: false,
    devicePixelRatio: 1,
    events: [],
    layout: { padding: { top: 19, left: 0, right: 0, bottom: 0 }, autoPadding: false },
    plugins: { legend: { display: false }, tooltip: { enabled: false } },
    scales: {
      x: {
        type: 'linear', position: 'bottom', min: 10, max: 40,
        afterBuildTicks: s => { s.ticks = xTickValues.map(v => ({ value: v })); },
        afterFit: s => { s.height = 88; },
        grid: labelGap(15),
        border: { display: false },
        ticks: { font: tickFont, color: INK, padding: 0, maxRotation: 0, autoSkip: false, callback: v => v.toFixed(1) },
        title: { display: true, text: 'Turbine rotor speed [rpm]', font: { family: SERIF, size: 30 }, color: INK, padding: { top: 0, bottom: 2 } }
      },
      y: {
        type: 'linear', position: 'left', min: 0, max: 1,
        afterBuildTicks: s => { s.ticks = yTickValues.map(v => ({ value: v })); },
        afterFit: s => { s.width = 101; },
        grid: labelGap(15),
        border: { display: false },
        ticks: { font: tickFont, color: INK, padding: 0, autoSkip: false, callback: v => v.toFixed(1) }
      },
      cbar: {
        type: 'linear', axis: 'y', position: 'right', min: 3, max: 15,
        afterBuildTicks: s => { s.ticks = cbarTicks.map(v => ({ value: v })); },
        afterFit: s => { s.width = 137; },
        grid: labelGap(50),
        border: { display: false },
        ticks: { font: tickFont, color: INK, padding: 0, autoSkip: false, callback: v => v.toFixed(1) }
      }
    }
  },
  plugins: [decorations]
});
</script>
</body>
</html>
